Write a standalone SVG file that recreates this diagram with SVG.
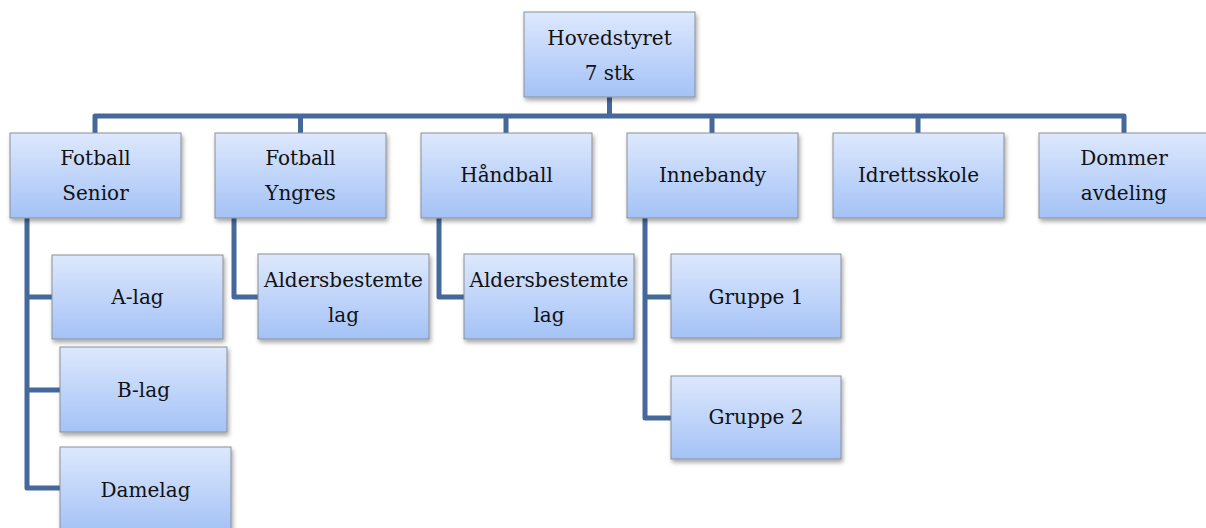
<svg xmlns="http://www.w3.org/2000/svg" width="1206" height="528" viewBox="0 0 1206 528">
<defs>
<linearGradient id="g" x1="0" y1="0" x2="0" y2="1">
<stop offset="0" stop-color="#dde8fd"/>
<stop offset="1" stop-color="#a4c2f6"/>
</linearGradient>
<filter id="sh" x="-10%" y="-10%" width="125%" height="130%">
<feDropShadow dx="1.5" dy="3" stdDeviation="2" flood-color="#000" flood-opacity="0.35"/>
</filter>
</defs>
<style>
.box{fill:url(#g);stroke:#8a8f96;stroke-width:1;filter:url(#sh)}
.t{font-family:"DejaVu Serif","Liberation Serif",serif;font-size:20px;fill:#111;text-anchor:middle}
.c{fill:none;stroke:#44699a;stroke-width:5;stroke-linejoin:round}
</style>
<g id="connectors">
<path class="c" d="M609.5 97 V116 M95 133 V116 H1124 V133 M300.5 116 V133 M506 116 V133 M712 116 V133 M918 116 V133"/>
<path class="c" d="M27 218 V488 H60 M27 297 H52 M27 390 H60"/>
<path class="c" d="M234 218 V297 H258"/>
<path class="c" d="M439 218 V297 H464"/>
<path class="c" d="M645 218 V418 H671 M645 297 H671"/>
</g>
<g id="hovedstyret"><rect class="box" x="524" y="12" width="171" height="85"/><text class="t" x="609.5" y="45">Hovedstyret</text><text class="t" x="609.5" y="80">7 stk</text></g>
<g id="fotball-senior"><rect class="box" x="10" y="133" width="171" height="85"/><text class="t" x="95.5" y="165">Fotball</text><text class="t" x="95.5" y="200">Senior</text></g>
<g id="fotball-yngres"><rect class="box" x="215" y="133" width="171" height="85"/><text class="t" x="300.5" y="165">Fotball</text><text class="t" x="300.5" y="200">Yngres</text></g>
<g id="handball"><rect class="box" x="421" y="133" width="171" height="85"/><text class="t" x="506.5" y="182">Håndball</text></g>
<g id="innebandy"><rect class="box" x="627" y="133" width="171" height="85"/><text class="t" x="712.5" y="182">Innebandy</text></g>
<g id="idrettsskole"><rect class="box" x="833" y="133" width="171" height="85"/><text class="t" x="918.5" y="182">Idrettsskole</text></g>
<g id="dommer"><rect class="box" x="1039" y="133" width="171" height="85"/><text class="t" x="1124" y="165">Dommer</text><text class="t" x="1124" y="200">avdeling</text></g>
<g id="a-lag"><rect class="box" x="52" y="255" width="171" height="84"/><text class="t" x="137.5" y="304">A-lag</text></g>
<g id="b-lag"><rect class="box" x="60" y="347" width="167" height="85"/><text class="t" x="143.5" y="397">B-lag</text></g>
<g id="damelag"><rect class="box" x="60" y="447" width="171" height="85"/><text class="t" x="145.5" y="497">Damelag</text></g>
<g id="aldersbestemte-1"><rect class="box" x="258" y="254" width="171" height="85"/><text class="t" x="343.5" y="287">Aldersbestemte</text><text class="t" x="343.5" y="322">lag</text></g>
<g id="aldersbestemte-2"><rect class="box" x="464" y="254" width="170" height="85"/><text class="t" x="549" y="287">Aldersbestemte</text><text class="t" x="549" y="322">lag</text></g>
<g id="gruppe-1"><rect class="box" x="671" y="254" width="170" height="84"/><text class="t" x="756" y="304">Gruppe 1</text></g>
<g id="gruppe-2"><rect class="box" x="671" y="376" width="170" height="83"/><text class="t" x="756" y="424">Gruppe 2</text></g>
</svg>
